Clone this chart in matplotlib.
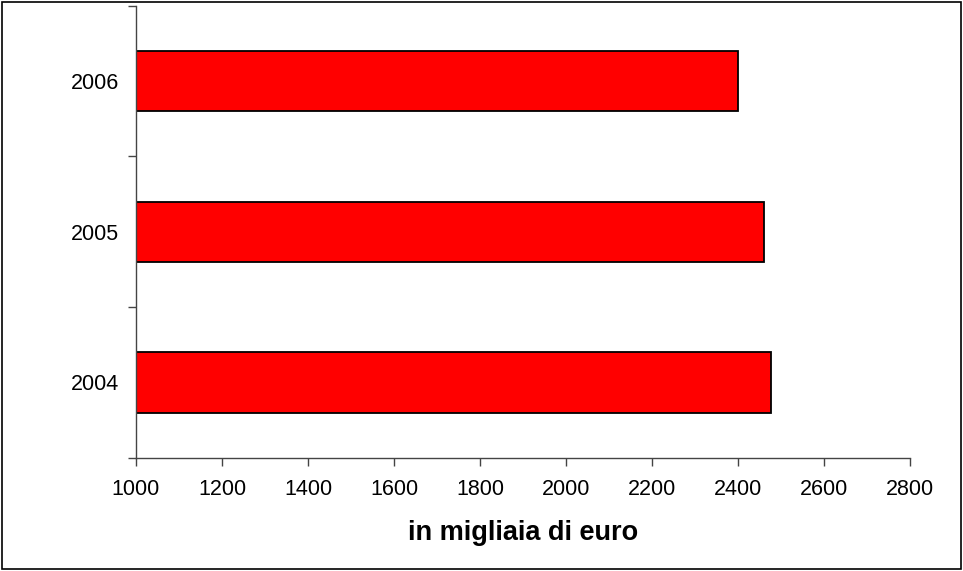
import numpy as np
import matplotlib.pyplot as plt
from matplotlib.patches import Rectangle

years = ['2004', '2005', '2006']
values = [2475, 2460, 2400]

plt.rcParams['font.family'] = ['Liberation Sans', 'DejaVu Sans']

fig = plt.figure(figsize=(9.63, 5.71), dpi=100)
ax = fig.add_axes([0.1412, 0.1984, 0.8041, 0.7916])

ind = np.arange(len(years))
ax.barh(ind, np.array(values) - 1000, height=0.4, left=1000,
        color='#ff0000', edgecolor='black', linewidth=1.3)

ax.set_xlim(1000, 2800)
ax.set_ylim(-0.5, len(years) - 0.5)
ax.set_xticks(np.arange(1000, 2801, 200))
ax.tick_params(axis='x', labelsize=15.5, length=6, width=1, color='#444444', pad=9)

ax.set_yticks(ind)
ax.set_yticklabels(years)
ax.tick_params(axis='y', which='major', labelsize=15.5, length=0, pad=12)
ax.set_yticks(np.arange(-0.5, len(years), 1), minor=True)
ax.tick_params(axis='y', which='minor', length=6, width=1, color='#444444')

for s in ['top', 'right']:
    ax.spines[s].set_visible(False)
for s in ['left', 'bottom']:
    ax.spines[s].set_color('#444444')
    ax.spines[s].set_linewidth(1)

ax.set_xlabel('in migliaia di euro', fontsize=19.5, fontweight='bold', labelpad=15)

fig.patches.append(Rectangle((0.002, 0.003), 0.996, 0.994, transform=fig.transFigure,
                             fill=False, edgecolor='black', linewidth=1.2))

fig.savefig('out.png', dpi=100)
